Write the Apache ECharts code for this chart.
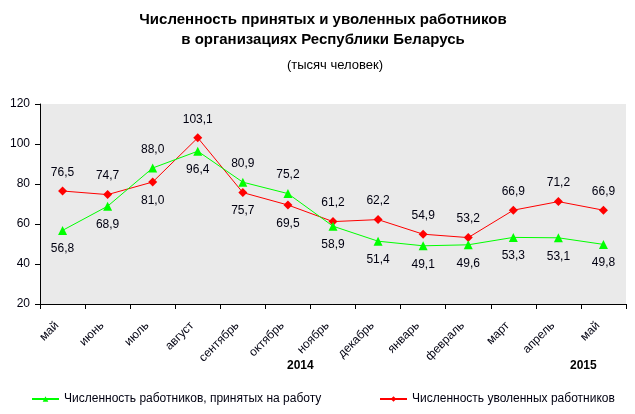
<!DOCTYPE html>
<html><head><meta charset="utf-8">
<script src="https://cdn.jsdelivr.net/npm/echarts@6/dist/echarts.min.js"></script>
<style>html,body{margin:0;padding:0;background:#fff}#c{width:635px;height:414px}</style>
</head><body><div id="c"></div>
<script>
const categories = ['май','июнь','июль','август','сентябрь','октябрь','ноябрь','декабрь','январь','февраль','март','апрель','май'];
const hired = [56.8, 68.9, 88.0, 96.4, 80.9, 75.2, 58.9, 51.4, 49.1, 49.6, 53.3, 53.1, 49.8];
const dismissed = [76.5, 74.7, 81.0, 103.1, 75.7, 69.5, 61.2, 62.2, 54.9, 53.2, 66.9, 71.2, 66.9];
const yTicks = [20, 40, 60, 80, 100, 120];
const hiredLabelSide = ['bottom','bottom','top','bottom','top','top','bottom','bottom','bottom','bottom','bottom','bottom','bottom'];
const dismissedLabelSide = ['top','top','bottom','top','bottom','bottom','top','top','top','top','top','top','top'];
const FONT = '"Liberation Sans", Arial, sans-serif';
const TXT = '#000010';
const fmt = v => v.toFixed(1).replace('.', ',');
function mk(vals, sides) {
  return vals.map((v, i) => ({ value: v, label: { position: sides[i] } }));
}
const chart = echarts.init(document.getElementById('c'));
chart.setOption({
  animation: false,
  textStyle: { fontFamily: FONT },
  title: [{
    text: 'Численность принятых и уволенных работников\nв организациях Республики Беларусь',
    left: 318, top: 5, textAlign: 'center',
    textStyle: { fontSize: 15, fontWeight: 'bold', color: '#000', lineHeight: 20, fontFamily: FONT }
  }, {
    text: '(тысяч человек)',
    left: 330, top: 54, textAlign: 'center',
    textStyle: { fontSize: 13, fontWeight: 'normal', color: '#000', fontFamily: FONT }
  }],
  grid: { left: 40, right: 9, top: 104, bottom: 110, show: true, backgroundColor: '#EAEAEA', borderWidth: 0 },
  xAxis: {
    type: 'category', data: categories, boundaryGap: true,
    axisLine: { lineStyle: { color: '#000', width: 1 } },
    axisTick: { show: true, inside: false, length: 5, lineStyle: { color: '#000' }, alignWithLabel: false },
    axisLabel: { rotate: 45, fontSize: 12, color: TXT, fontFamily: FONT, interval: 0, margin: 14, padding: [0, 8, 0, 0] },
    splitLine: { show: false }
  },
  yAxis: {
    type: 'value', min: yTicks[0], max: yTicks[yTicks.length - 1], interval: 20,
    axisLine: { show: true, lineStyle: { color: '#000', width: 1 } },
    axisTick: { show: true, length: 5, lineStyle: { color: '#000' } },
    axisLabel: { fontSize: 12, color: TXT, fontFamily: FONT, margin: 10 },
    splitLine: { show: false }
  },
  legend: [{
    data: ['Численность работников, принятых на работу'],
    left: 26, top: 388, itemWidth: 27, itemHeight: 7, itemGap: 4,
    textStyle: { fontSize: 12, color: TXT, fontFamily: FONT }
  }, {
    data: ['Численность уволенных работников'],
    left: 374, top: 388, itemWidth: 27, itemHeight: 7, itemGap: 4,
    textStyle: { fontSize: 12, color: TXT, fontFamily: FONT }
  }],
  graphic: [
    { type: 'text', left: 287, top: 360, style: { text: '2014', font: 'bold 12px ' + FONT, fill: '#000' } },
    { type: 'text', left: 570, top: 360, style: { text: '2015', font: 'bold 12px ' + FONT, fill: '#000' } }
  ],
  series: [{
    name: 'Численность работников, принятых на работу',
    type: 'line', data: mk(hired, hiredLabelSide),
    symbol: 'triangle', symbolSize: 9,
    itemStyle: { color: '#00FF00' }, lineStyle: { color: '#00FF00', width: 1 },
    label: { show: true, fontSize: 12, color: TXT, fontFamily: FONT, distance: 8, formatter: p => fmt(p.value) },
    z: 3
  }, {
    name: 'Численность уволенных работников',
    type: 'line', data: mk(dismissed, dismissedLabelSide),
    symbol: 'diamond', symbolSize: 9,
    itemStyle: { color: '#FF0000' }, lineStyle: { color: '#FF0000', width: 1 },
    label: { show: true, fontSize: 12, color: TXT, fontFamily: FONT, distance: 8, formatter: p => fmt(p.value) },
    z: 2
  }]
});
</script></body></html>
